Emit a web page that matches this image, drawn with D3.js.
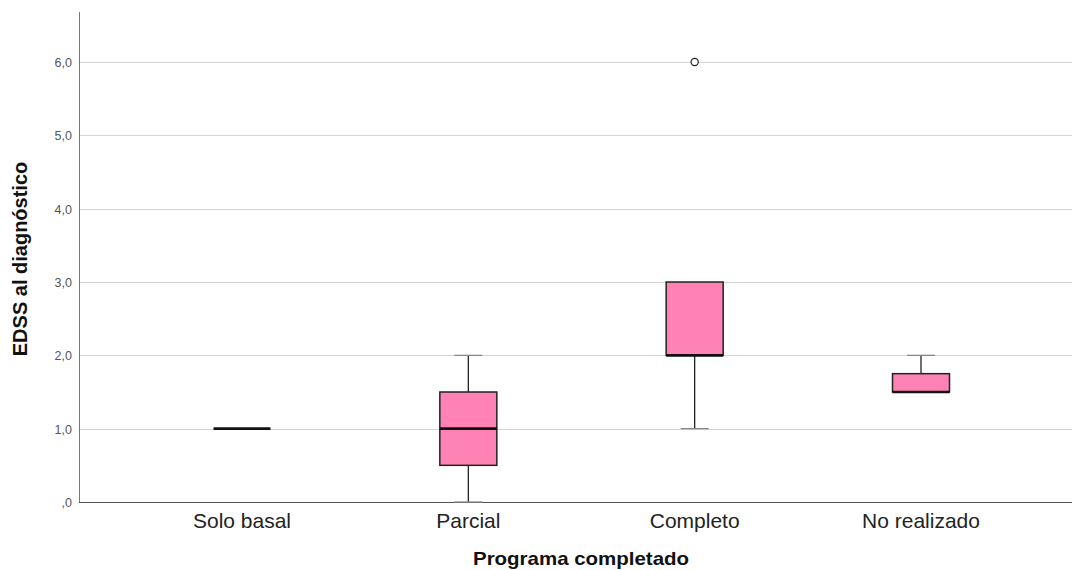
<!DOCTYPE html>
<html>
<head>
<meta charset="utf-8">
<script src="https://cdn.jsdelivr.net/npm/d3@7"></script>
<style>
  html, body { margin: 0; padding: 0; background: #fff; }
  svg { display: block; font-family: "Liberation Sans", Arial, sans-serif; }
</style>
</head>
<body>
<svg id="chart" width="1072" height="570"></svg>
<script>
// Categories on the x axis
const categories = ["Solo basal", "Parcial", "Completo", "No realizado"];
// Box-plot statistics per category (EDSS at diagnosis)
const whiskerLow  = [1.0, 0.0, 1.0, 1.5];
const q1          = [1.0, 0.5, 2.0, 1.5];
const medians     = [1.0, 1.0, 2.0, 1.5];
const q3          = [1.0, 1.5, 3.0, 1.75];
const whiskerHigh = [1.0, 2.0, 3.0, 2.0];
// Outliers: [category index, value]
const outliers = [[2, 6.0]];
// Y tick values and labels
const yTicks = [0, 1, 2, 3, 4, 5, 6];
const yTickLabels = [",0", "1,0", "2,0", "3,0", "4,0", "5,0", "6,0"];

const svg = d3.select("#chart");
const plotLeft = 79, plotRight = 1072, plotBottom = 502, plotTop = 12;

const y = d3.scaleLinear().domain([0, 6]).range([plotBottom, 62]);
const x = d3.scalePoint().domain(categories).range([242, 921]);

const boxW = 57, capW = 28;

// Gridlines
svg.append("g").selectAll("line").data(yTicks.filter(d => d > 0)).join("line")
  .attr("x1", plotLeft).attr("x2", plotRight)
  .attr("y1", d => Math.round(y(d)) + 0.5).attr("y2", d => Math.round(y(d)) + 0.5)
  .attr("stroke", "#d4d4d4").attr("stroke-width", 1);

// Y axis labels
svg.append("g").selectAll("text").data(yTicks).join("text")
  .attr("x", 72).attr("y", d => Math.round(y(d)) + 4.5)
  .attr("text-anchor", "end")
  .attr("font-size", 12.5).attr("fill", "#555")
  .text((d, i) => yTickLabels[i]);

// Axis lines
svg.append("line")
  .attr("x1", plotLeft + 0.5).attr("x2", plotLeft + 0.5)
  .attr("y1", plotTop).attr("y2", plotBottom + 0.5)
  .attr("stroke", "#777").attr("stroke-width", 1);
svg.append("line")
  .attr("x1", plotLeft).attr("x2", plotRight)
  .attr("y1", plotBottom + 0.5).attr("y2", plotBottom + 0.5)
  .attr("stroke", "#555").attr("stroke-width", 1);

// Boxes
const stats = categories.map((c, i) => ({
  c, lo: whiskerLow[i], q1: q1[i], med: medians[i], q3: q3[i], hi: whiskerHigh[i]
}));

const g = svg.append("g");
stats.forEach(s => {
  const cx = x(s.c);
  // whiskers
  if (s.hi > s.q3) {
    g.append("line").attr("x1", cx).attr("x2", cx)
      .attr("y1", y(s.q3)).attr("y2", y(s.hi)).attr("stroke", "#222").attr("stroke-width", 1.3);
    g.append("line").attr("x1", cx - capW / 2).attr("x2", cx + capW / 2)
      .attr("y1", y(s.hi)).attr("y2", y(s.hi)).attr("stroke", "#888").attr("stroke-width", 1.3);
  }
  if (s.lo < s.q1) {
    g.append("line").attr("x1", cx).attr("x2", cx)
      .attr("y1", y(s.q1)).attr("y2", y(s.lo)).attr("stroke", "#222").attr("stroke-width", 1.3);
    g.append("line").attr("x1", cx - capW / 2).attr("x2", cx + capW / 2)
      .attr("y1", y(s.lo)).attr("y2", y(s.lo)).attr("stroke", "#888").attr("stroke-width", 1.3);
  }
  // box
  if (s.q3 > s.q1) {
    g.append("rect")
      .attr("x", cx - boxW / 2).attr("width", boxW)
      .attr("y", y(s.q3)).attr("height", y(s.q1) - y(s.q3))
      .attr("fill", "#ff82b4").attr("stroke", "#222").attr("stroke-width", 1.5);
  }
  // median
  g.append("line").attr("x1", cx - boxW / 2).attr("x2", cx + boxW / 2)
    .attr("y1", y(s.med)).attr("y2", y(s.med))
    .attr("stroke", "#111").attr("stroke-width", 2.6);
});

// Outliers
g.selectAll("circle.out").data(outliers).join("circle")
  .attr("class", "out")
  .attr("cx", d => x(categories[d[0]])).attr("cy", d => y(d[1]))
  .attr("r", 3.6).attr("fill", "#fff").attr("stroke", "#222").attr("stroke-width", 1.2);

// X category labels
svg.append("g").selectAll("text").data(categories).join("text")
  .attr("x", d => x(d)).attr("y", 528)
  .attr("text-anchor", "middle").attr("font-size", 21).attr("fill", "#222")
  .text(d => d);

// Axis titles
svg.append("text")
  .attr("transform", "translate(581,565) scale(1.17,1)")
  .attr("text-anchor", "middle").attr("font-size", 17.5).attr("font-weight", "bold").attr("fill", "#111")
  .text("Programa completado");

svg.append("text")
  .attr("transform", "translate(27,259) rotate(-90)")
  .attr("text-anchor", "middle").attr("font-size", 20).attr("font-weight", "bold").attr("fill", "#111")
  .text("EDSS al diagnóstico");
</script>
</body>
</html>
